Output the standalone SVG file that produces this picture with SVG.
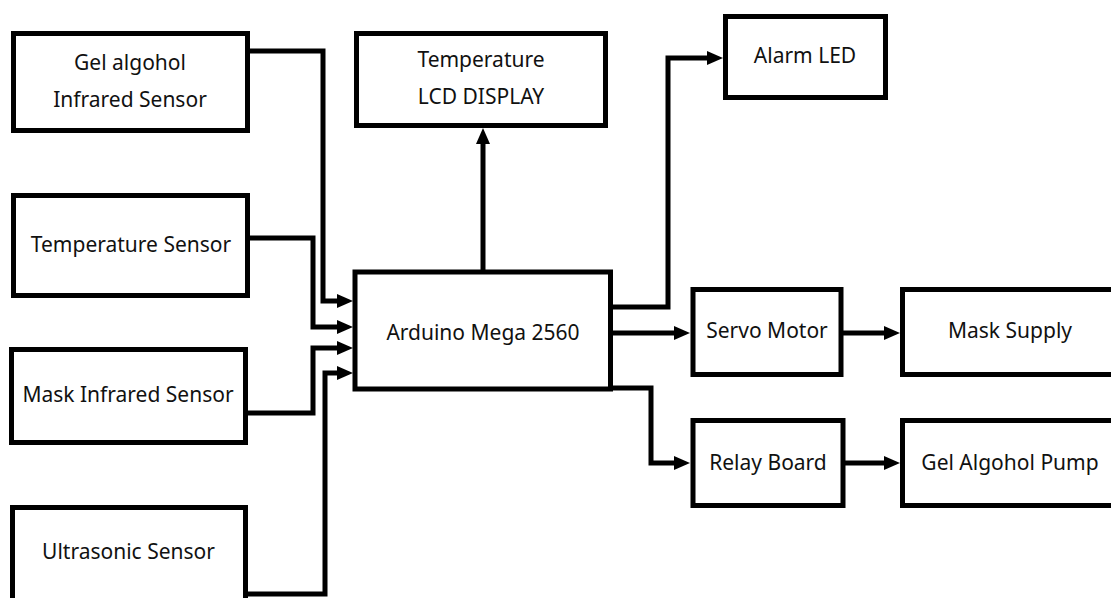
<svg xmlns="http://www.w3.org/2000/svg" width="1111" height="598" viewBox="0 0 1111 598">
<defs>
<style>
.box{fill:#fff;stroke:#000;stroke-width:5}
.t{font-family:"Noto Sans","Open Sans",sans-serif;font-size:21px;fill:#111;text-anchor:middle}
.c{fill:none;stroke:#000;stroke-width:5;stroke-linejoin:miter}
</style>
<marker id="ah" markerWidth="16" markerHeight="14" refX="0" refY="7" orient="auto" markerUnits="userSpaceOnUse">
<path d="M0,0 L16,7 L0,14 Z" fill="#000"/>
</marker>
</defs>
<rect width="1111" height="598" fill="#fff"/>
<g id="connectors">
<path class="c" d="M250,51 H323 V301 H337" marker-end="url(#ah)"/>
<path class="c" d="M250,238 H313 V327 H337" marker-end="url(#ah)"/>
<path class="c" d="M248,413 H313 V348 H337" marker-end="url(#ah)"/>
<path class="c" d="M248,594 H325 V373 H337" marker-end="url(#ah)"/>
<path class="c" d="M483,272 V144" marker-end="url(#ah)"/>
<path class="c" d="M610,307 H668 V58 H707" marker-end="url(#ah)"/>
<path class="c" d="M610,333 H674" marker-end="url(#ah)"/>
<path class="c" d="M610,388 H651 V463 H674" marker-end="url(#ah)"/>
<path class="c" d="M843,333 H884" marker-end="url(#ah)"/>
<path class="c" d="M845,463 H884" marker-end="url(#ah)"/>
</g>
<g id="gel-ir">
<rect class="box" x="13.5" y="33.5" width="234" height="97"/>
<text class="t" x="130" y="70">Gel algohol</text>
<text class="t" x="130" y="107">Infrared Sensor</text>
</g>
<g id="temp-sensor">
<rect class="box" x="13.5" y="195.5" width="234" height="100"/>
<text class="t" x="131" y="252">Temperature Sensor</text>
</g>
<g id="mask-ir">
<rect class="box" x="11.5" y="349.5" width="234" height="93"/>
<text class="t" x="128" y="402">Mask Infrared Sensor</text>
</g>
<g id="ultrasonic">
<rect class="box" x="12.5" y="507.5" width="233" height="100"/>
<text class="t" x="128.5" y="559">Ultrasonic Sensor</text>
</g>
<g id="lcd">
<rect class="box" x="356.5" y="33.5" width="249" height="92"/>
<text class="t" x="481" y="67">Temperature</text>
<text class="t" x="481" y="104">LCD DISPLAY</text>
</g>
<g id="arduino">
<rect class="box" x="355" y="272" width="255.5" height="117"/>
<text class="t" x="483" y="340">Arduino Mega 2560</text>
</g>
<g id="alarm">
<rect class="box" x="725.5" y="16.5" width="160" height="81"/>
<text class="t" x="805" y="63">Alarm LED</text>
</g>
<g id="servo">
<rect class="box" x="693" y="289.5" width="148" height="85"/>
<text class="t" x="767" y="338">Servo Motor</text>
</g>
<g id="mask-supply">
<rect class="box" x="902.5" y="289.5" width="230" height="85"/>
<text class="t" x="1010" y="338">Mask Supply</text>
</g>
<g id="relay">
<rect class="box" x="693" y="420.5" width="150" height="85"/>
<text class="t" x="768" y="470">Relay Board</text>
</g>
<g id="pump">
<rect class="box" x="902.5" y="420.5" width="230" height="85"/>
<text class="t" x="1010" y="470">Gel Algohol Pump</text>
</g>
</svg>
